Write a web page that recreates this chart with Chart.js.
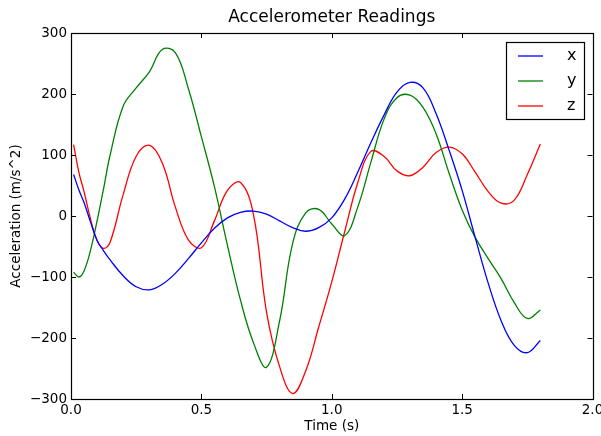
<!DOCTYPE html>
<html>
<head>
<meta charset="utf-8">
<script src="https://cdn.jsdelivr.net/npm/chart.js@4"></script>
<style>
  body { margin: 0; background: #fff; }
  #wrap { width: 601px; height: 436px; position: relative; }
</style>
</head>
<body>
<div id="wrap"><canvas id="chart"></canvas></div>
<script>
// ==================== DATA ====================
const time = [0.01, 0.03, 0.05, 0.075, 0.10, 0.125, 0.15, 0.20, 0.25, 0.30, 0.35, 0.40, 0.45, 0.50,
  0.55, 0.60, 0.65, 0.70, 0.75, 0.80, 0.85, 0.90, 0.95, 1.00, 1.05, 1.10, 1.15, 1.20, 1.25, 1.30,
  1.35, 1.40, 1.45, 1.50, 1.55, 1.60, 1.65, 1.70, 1.75, 1.80];

const accelX = [68, 43, 22, -10, -40, -57, -72, -98, -116, -121, -112, -94, -70, -44,
  -20, -3, 6, 8, 3, -8, -19, -25, -19, -3, 28, 72, 120, 165, 203, 219,
  210, 168, 108, 42, -35, -110, -172, -212, -224, -204];

const accelY = [-92, -100, -90, -56, -8, 45, 100, 180, 210, 236, 273, 268, 209, 130,
  48, -48, -138, -208, -248, -172, -45, 5, 11, -13, -32, 15, 88, 158, 194, 198,
  178, 135, 70, 10, -35, -70, -103, -142, -168, -154];

const accelZ = [117, 72, 40, -5, -40, -53, -43, 35, 98, 116, 87, 15, -39, -52,
  -8, 42, 55, 2, -158, -247, -291, -254, -182, -108, -25, 55, 106, 98, 74, 66,
  80, 104, 113, 102, 72, 40, 21, 26, 68, 118];

const seriesNames = ["x", "y", "z"];
const seriesColors = ["#0000ff", "#008000", "#ff0000"];
const xTicks = [0, 0.5, 1.0, 1.5, 2.0];
const yTicks = [-300, -200, -100, 0, 100, 200, 300];

const FONT = "'DejaVu Sans', sans-serif";

function toPoints(vals) {
  return vals.map((v, i) => ({ x: time[i], y: v }));
}

// ==================== PLUGIN: frame, inward ticks, legend ====================
const framePlugin = {
  id: "frame",
  afterDraw(chart) {
    const ctx = chart.ctx;
    const a = chart.chartArea;
    const xs = chart.scales.x, ys = chart.scales.y;
    ctx.save();
    ctx.strokeStyle = "#000";
    ctx.lineWidth = 1;
    // ticks pointing inward on all four sides
    ctx.beginPath();
    xTicks.forEach(v => {
      const px = Math.round(xs.getPixelForValue(v)) + 0.5;
      ctx.moveTo(px, a.bottom); ctx.lineTo(px, a.bottom - 5);
      ctx.moveTo(px, a.top); ctx.lineTo(px, a.top + 5);
    });
    yTicks.forEach(v => {
      const py = Math.round(ys.getPixelForValue(v)) + 0.5;
      ctx.moveTo(a.left, py); ctx.lineTo(a.left + 5, py);
      ctx.moveTo(a.right, py); ctx.lineTo(a.right - 5, py);
    });
    ctx.stroke();
    // plot frame
    ctx.lineWidth = 1.2;
    ctx.strokeRect(Math.round(a.left) + 0.5, Math.round(a.top) + 0.5,
      Math.round(a.right - a.left), Math.round(a.bottom - a.top));

    // legend box
    const lx = 506, ly = 42, lw = 78, lh = 77;
    ctx.fillStyle = "#fff";
    ctx.fillRect(lx, ly, lw, lh);
    ctx.lineWidth = 1.2;
    ctx.strokeRect(lx + 0.5, ly + 0.5, lw, lh);
    ctx.font = "16px " + FONT;
    ctx.textBaseline = "middle";
    chart.data.datasets.forEach((ds, i) => {
      const y = ly + 14 + i * 25;
      ctx.strokeStyle = ds.borderColor;
      ctx.lineWidth = 1.3;
      ctx.beginPath();
      ctx.moveTo(518, y); ctx.lineTo(543, y);
      ctx.stroke();
      ctx.fillStyle = "#000";
      ctx.fillText(ds.label, 567, y);
    });
    ctx.restore();
  }
};

// ==================== CHART ====================
const ctx = document.getElementById("chart").getContext("2d");
new Chart(ctx, {
  type: "line",
  data: {
    datasets: [accelX, accelY, accelZ].map((vals, i) => ({
      label: seriesNames[i],
      data: toPoints(vals),
      borderColor: seriesColors[i],
      backgroundColor: seriesColors[i],
      borderWidth: 1.3,
      pointRadius: 0,
      tension: 0.4,
      fill: false
    }))
  },
  options: {
    responsive: true,
    maintainAspectRatio: false,
    animation: false,
    layout: { padding: { left: 0, right: 8.5, top: 0, bottom: 0 } },
    plugins: {
      legend: { display: false },
      tooltip: { enabled: false },
      title: {
        display: true,
        text: "Accelerometer Readings",
        fullSize: false,
        color: "#000",
        font: { family: FONT, size: 17, weight: "normal", lineHeight: 1.2 },
        padding: { top: 7, bottom: 5.6 }
      }
    },
    scales: {
      x: {
        type: "linear",
        min: 0,
        max: 2,
        afterFit(scale) { scale.height = 37; scale.paddingLeft = 0; scale.paddingRight = 0; },
        afterBuildTicks(scale) { scale.ticks = xTicks.map(v => ({ value: v })); },
        grid: { display: false, drawTicks: false },
        border: { display: false },
        ticks: {
          color: "#000",
          padding: 3,
          maxRotation: 0,
          font: { family: FONT, size: 13.5 },
          callback: v => Number(v).toFixed(1)
        },
        title: {
          display: true,
          text: "Time (s)",
          color: "#000",
          font: { family: FONT, size: 13.5, lineHeight: 1.2 },
          padding: 1
        }
      },
      y: {
        min: -300,
        max: 300,
        afterFit(scale) { scale.width = 71; },
        afterBuildTicks(scale) { scale.ticks = yTicks.map(v => ({ value: v })); },
        grid: { display: false, drawTicks: false },
        border: { display: false },
        ticks: {
          color: "#000",
          padding: 4,
          font: { family: FONT, size: 13.5 },
          callback: v => (v < 0 ? "\u2212" + Math.abs(v) : String(v))
        },
        title: {
          display: true,
          text: "Acceleration (m/s^2)",
          color: "#000",
          font: { family: FONT, size: 13.5, lineHeight: 1.2 },
          padding: 8
        }
      }
    }
  },
  plugins: [framePlugin]
});
</script>
</body>
</html>
